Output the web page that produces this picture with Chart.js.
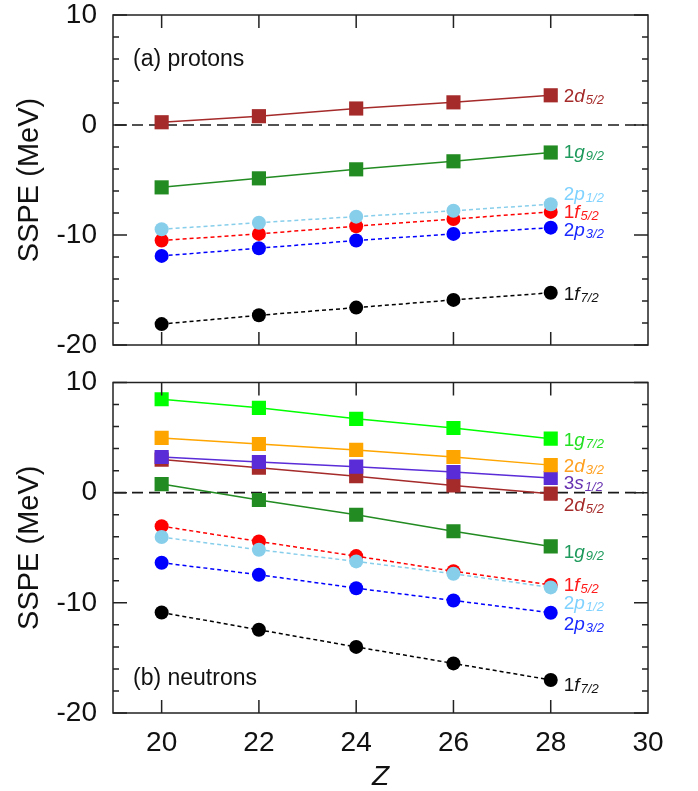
<!DOCTYPE html>
<html><head><meta charset="utf-8">
<script src="https://cdn.jsdelivr.net/npm/chart.js@4/dist/chart.umd.min.js"></script>
<style>
html,body{margin:0;padding:0;background:#fff;overflow:hidden;}
#c1{position:absolute;left:0;top:0;}
#c2{position:absolute;left:0;top:364px;}
</style></head><body>
<canvas id="c1" width="698" height="364"></canvas>
<canvas id="c2" width="698" height="430"></canvas>
<script>
// ---- data ----
const Z = [20, 22, 24, 26, 28];
const xTicks = [20, 22, 24, 26, 28, 30];
const yTicks = [-20, -10, 0, 10];
// (a) protons
const p_2d52 = [0.25, 0.8, 1.5, 2.06, 2.7];
const p_1g92 = [-5.67, -4.85, -4.03, -3.3, -2.5];
const p_2p12 = [-9.48, -8.88, -8.33, -7.8, -7.2];
const p_1f52 = [-10.5, -9.9, -9.2, -8.55, -7.9];
const p_2p32 = [-11.9, -11.2, -10.5, -9.9, -9.33];
const p_1f72 = [-18.1, -17.3, -16.6, -15.9, -15.25];
// (b) neutrons
const n_1g72 = [8.48, 7.7, 6.7, 5.87, 4.9];
const n_2d32 = [4.97, 4.42, 3.88, 3.24, 2.5];
const n_3s12 = [3.24, 2.78, 2.36, 1.87, 1.33];
const n_2d52 = [3.0, 2.27, 1.5, 0.66, -0.09];
const n_1g92 = [0.78, -0.67, -2.0, -3.5, -4.88];
const n_1f52 = [-3.04, -4.43, -5.76, -7.13, -8.37];
const n_2p12 = [-4.03, -5.18, -6.24, -7.36, -8.6];
const n_2p32 = [-6.36, -7.45, -8.67, -9.79, -10.9];
const n_1f72 = [-10.88, -12.45, -14.0, -15.5, -17.0];

// ---- styles ----
const C = {
  brown: '#A52A2A', green: '#228B22', lime: '#00FF00', orange: '#FFA500',
  purple: '#5A2CD8', red: '#FF0000', sky: '#87CEEB', blue: '#0000FF', black: '#000000'
};
// series: [values, n, l, j, markerColor, labelColor, marker, labelDy]
const protonSeries = [
  [p_2d52, '2', 'd', '5/2', C.brown, '#A52A2A', 'rect', 0],
  [p_1g92, '1', 'g', '9/2', C.green, '#1E9A5C', 'rect', -2],
  [p_2p12, '2', 'p', '1/2', C.sky, '#7FD2FF', 'circle', -11],
  [p_1f52, '1', 'f', '5/2', C.red, '#FF1A1A', 'circle', -1],
  [p_2p32, '2', 'p', '3/2', C.blue, '#1A2AFF', 'circle', 1],
  [p_1f72, '1', 'f', '7/2', C.black, '#111111', 'circle', 0]
];
const neutronSeries = [
  [n_1g72, '1', 'g', '7/2', C.lime, '#22E022', 'rect', 0],
  [n_2d32, '2', 'd', '3/2', C.orange, '#FFA020', 'rect', 0],
  [n_3s12, '3', 's', '1/2', C.purple, '#6630B0', 'rect', 4],
  [n_2d52, '2', 'd', '5/2', C.brown, '#A52A2A', 'rect', 10],
  [n_1g92, '1', 'g', '9/2', C.green, '#1E9A5C', 'rect', 5],
  [n_2p12, '2', 'p', '1/2', C.sky, '#7FD2FF', 'circle', 15],
  [n_1f52, '1', 'f', '5/2', C.red, '#FF1A1A', 'circle', -1],
  [n_2p32, '2', 'p', '3/2', C.blue, '#1A2AFF', 'circle', 10],
  [n_1f72, '1', 'f', '7/2', C.black, '#111111', 'circle', 4]
];

const FONT = "'Liberation Sans', Arial, Helvetica, sans-serif";

function makeDatasets(series) {
  return series.map(s => ({
    data: Z.map((x, i) => ({x: x, y: s[0][i]})),
    borderColor: s[4],
    backgroundColor: s[4],
    pointBackgroundColor: s[4],
    pointBorderColor: s[4],
    pointBorderWidth: 0,
    pointStyle: s[6],
    pointRadius: s[6] === 'rect' ? 10 : 7,
    pointHoverRadius: s[6] === 'rect' ? 10 : 7,
    borderWidth: 1.5,
    borderDash: s[6] === 'rect' ? [] : [4, 3],
    tension: 0,
    fill: false,
    _lab: s
  }));
}

const framePlugin = {
  id: 'frame',
  beforeDatasetsDraw(chart) {
    const {ctx, chartArea: a, scales: {x, y}} = chart;
    ctx.save();
    ctx.strokeStyle = '#1a1a1a';
    ctx.lineWidth = 1.6;
    ctx.setLineDash([11, 6]);
    const y0 = y.getPixelForValue(0);
    ctx.beginPath();
    ctx.moveTo(a.left + 2, y0);
    ctx.lineTo(a.right - 4, y0);
    ctx.stroke();
    ctx.restore();
  },
  afterDatasetsDraw(chart, args, opts) {
    const {ctx, chartArea: a, scales: {x, y}} = chart;
    ctx.save();
    ctx.strokeStyle = '#222';
    ctx.lineWidth = 1.5;
    ctx.setLineDash([]);
    ctx.strokeRect(a.left, a.top, a.right - a.left, a.bottom - a.top);
    ctx.beginPath();
    for (let v = -20; v <= 10; v += 2) {
      const py = y.getPixelForValue(v);
      const len = (v % 10 === 0) ? 14 : 6;
      ctx.moveTo(a.left, py); ctx.lineTo(a.left + len, py);
      ctx.moveTo(a.right, py); ctx.lineTo(a.right - len, py);
    }
    for (const v of Z) {
      const px = x.getPixelForValue(v);
      ctx.moveTo(px, a.top); ctx.lineTo(px, a.top + 13);
      ctx.moveTo(px, a.bottom); ctx.lineTo(px, a.bottom - 13);
    }
    ctx.stroke();
    // series labels
    chart.data.datasets.forEach(ds => {
      const s = ds._lab;
      const last = s[0][s[0].length - 1];
      const px = x.getPixelForValue(Z[Z.length - 1]) + 13;
      const py = y.getPixelForValue(last) + s[7] + 7;
      ctx.fillStyle = s[5];
      ctx.textBaseline = 'alphabetic';
      ctx.textAlign = 'left';
      ctx.font = '19px ' + FONT;
      ctx.fillText(s[1], px, py);
      let w = ctx.measureText(s[1]).width;
      ctx.font = 'italic 19px ' + FONT;
      ctx.fillText(s[2], px + w, py);
      w += ctx.measureText(s[2]).width + 1;
      ctx.font = 'italic 13px ' + FONT;
      ctx.fillText(s[3], px + w, py + 2);
    });
    // panel label
    ctx.fillStyle = '#111';
    ctx.font = '23px ' + FONT;
    ctx.textBaseline = 'middle';
    ctx.fillText(opts.text, a.left + 20, opts.ty);
    ctx.restore();
  }
};

function noPad(s) { s.paddingTop = 0; s.paddingBottom = 0; s.paddingLeft = 0; s.paddingRight = 0; }

function yScale() {
  return {
    type: 'linear', min: -20, max: 10,
    afterBuildTicks: s => { s.ticks = yTicks.map(v => ({value: v})); },
    afterFit: s => { s.width = 113; noPad(s); },
    grid: {display: false, drawTicks: false},
    border: {display: false},
    ticks: {font: {family: FONT, size: 28}, color: '#111', padding: 16},
    title: {display: true, text: 'SSPE (MeV)', font: {family: FONT, size: 29}, color: '#111', padding: {top: 13, bottom: 0}}
  };
}

Chart.register(framePlugin);

new Chart(document.getElementById('c1'), {
  type: 'line',
  data: {datasets: makeDatasets(protonSeries)},
  options: {
    responsive: false, animation: false, events: [],
    layout: {padding: {left: 0, right: 50, top: 15, bottom: 19}},
    plugins: {legend: {display: false}, tooltip: {enabled: false}, frame: {text: '(a) protons', ty: 60}},
    scales: {
      x: {type: 'linear', min: 19, max: 30, display: false},
      y: yScale()
    }
  }
});

new Chart(document.getElementById('c2'), {
  type: 'line',
  data: {datasets: makeDatasets(neutronSeries)},
  options: {
    responsive: false, animation: false, events: [],
    layout: {padding: {left: 0, right: 50, top: 18.5, bottom: 0}},
    plugins: {legend: {display: false}, tooltip: {enabled: false}, frame: {text: '(b) neutrons', ty: 315}},
    scales: {
      x: {
        type: 'linear', min: 19, max: 30,
        afterBuildTicks: s => { s.ticks = xTicks.map(v => ({value: v})); },
        afterFit: s => { s.height = 430 - 349; noPad(s); },
        grid: {display: false, drawTicks: false},
        border: {display: false},
        ticks: {font: {family: FONT, size: 28}, color: '#111', padding: 13},
        title: {display: true, text: 'Z', font: {family: FONT, size: 28, style: 'italic'}, color: '#111', padding: {top: 0, bottom: 0}}
      },
      y: yScale()
    }
  }
});
</script>
</body></html>
